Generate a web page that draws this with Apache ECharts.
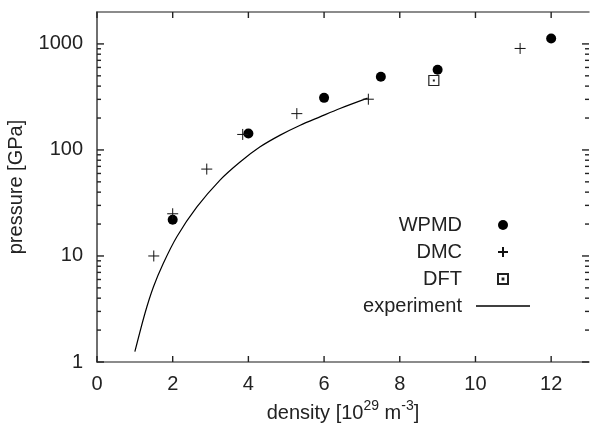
<!DOCTYPE html>
<html>
<head>
<meta charset="utf-8">
<script src="https://cdn.jsdelivr.net/npm/echarts@6/dist/echarts.min.js"></script>
<style>
  html, body { margin: 0; padding: 0; background: #fff; }
  #main { width: 596px; height: 426px; }
</style>
</head>
<body>
<div id="main"></div>
<script>
  // 数据 (density [1e29 m^-3], pressure [GPa])
  const wpmd = [[2.0, 22], [4.0, 143], [6.0, 310], [7.5, 490], [9.0, 570], [12.0, 1125]];
  const dmc = [[1.5, 10], [2.0, 25], [2.9, 66], [3.85, 140], [5.28, 220], [7.17, 301], [11.18, 906]];
  const dft = [[8.9, 452]];
  const experiment = [[1.0, 1.25], [1.27, 2.9], [1.49, 5.1], [1.75, 8.5], [2.11, 15.2], [2.64, 29],
    [3.25, 52], [3.78, 77], [4.31, 107], [4.84, 138], [5.37, 171], [5.89, 205], [6.42, 246], [7.15, 308]];

  const xTicks = [0, 2, 4, 6, 8, 10, 12];
  const yTicks = [1, 10, 100, 1000];
  const yMinorTicks = [2, 3, 4, 5, 6, 7, 8, 9, 20, 30, 40, 50, 60, 70, 80, 90, 200, 300, 400, 500, 600, 700, 800, 900];

  const FONT = '"Liberation Sans", Arial, sans-serif';
  const axisGray = '#666';
  const tickGray = '#222';

  const plusPath = 'path://M0,5 L10,5 M5,0 L5,10';
  const boxDotPath = 'path://M0,0 L10,0 L10,10 L0,10 Z M4.6,4.6 L5.4,4.6 L5.4,5.4 L4.6,5.4 Z';
  const linePath = 'path://M0,0 L54,0 L54,1.4 L0,1.4 Z';

  var myChart = echarts.init(document.getElementById('main'));

  // 刻度线 [x, y, 方向(0下 1上 2左 3右), 长度]
  const xTickData = [];
  xTicks.forEach(v => { xTickData.push([v, 1, 0, 6]); xTickData.push([v, 1, 1, 6]); });
  const yTickData = [];
  yTicks.forEach(v => { yTickData.push([1, v, 2, 6]); yTickData.push([1, v, 3, 6]); });
  yMinorTicks.forEach(v => { yTickData.push([1, v, 2, 3]); yTickData.push([1, v, 3, 3]); });

  const renderTick = function (params, api) {
    const side = api.value(2);
    const len = api.value(3);
    const p = api.coord([api.value(0), api.value(1)]);
    const cs = params.coordSys; // 网格范围
    let shape;
    if (side === 0) {
      shape = { x1: p[0], y1: cs.y + cs.height, x2: p[0], y2: cs.y + cs.height - len };
    } else if (side === 1) {
      shape = { x1: p[0], y1: cs.y, x2: p[0], y2: cs.y + len };
    } else if (side === 2) {
      shape = { x1: cs.x, y1: p[1], x2: cs.x + len + 1, y2: p[1] };
    } else {
      shape = { x1: cs.x + cs.width, y1: p[1], x2: cs.x + cs.width - len - 1, y2: p[1] };
    }
    return { type: 'line', shape: shape, style: { stroke: tickGray, lineWidth: 1.4 } };
  };

  let option = {
    animation: false,
    textStyle: { fontFamily: FONT },
    grid: { left: 97, right: 7, top: 12, bottom: 64, containLabel: false, outerBoundsMode: 'none' },
    legend: {
      orient: 'vertical',
      align: 'right',
      right: 61,
      top: 210,
      itemWidth: 54,
      itemHeight: 10,
      itemGap: 7,
      selectedMode: false,
      textStyle: { fontFamily: FONT, fontSize: 20, color: '#222', lineHeight: 20, padding: [0, 9, 0, 0] },
      data: [
        { name: 'WPMD' },
        { name: 'DMC' },
        { name: 'DFT' },
        { name: 'experiment', icon: linePath, itemStyle: { color: '#000', borderWidth: 0 } }
      ]
    },
    xAxis: [
      {
        type: 'value', min: 0, max: 13,
        position: 'bottom',
        name: '{a|density [10}{s|29}{a| m}{s|-3}{a|]}',
        nameLocation: 'middle',
        nameGap: 37,
        nameTextStyle: {
          rich: {
            a: { fontFamily: FONT, fontSize: 20, color: '#222', lineHeight: 24, verticalAlign: 'bottom' },
            s: { fontFamily: FONT, fontSize: 14, color: '#222', lineHeight: 24, verticalAlign: 'top', padding: [0, 0, 8, 0] }
          }
        },
        axisLine: { show: true, lineStyle: { color: axisGray, width: 1.5 } },
        axisTick: { show: false },
        axisLabel: { customValues: xTicks, margin: 12, fontFamily: FONT, fontSize: 20, color: '#222' },
        splitLine: { show: false }
      },
      {
        type: 'value', min: 0, max: 13,
        position: 'top',
        axisLine: { show: true, lineStyle: { color: axisGray, width: 1.5 } },
        axisTick: { show: false },
        axisLabel: { show: false },
        splitLine: { show: false }
      }
    ],
    yAxis: [
      {
        type: 'log', logBase: 10, min: 1, max: 2000,
        position: 'left',
        name: 'pressure [GPa]',
        nameLocation: 'middle',
        nameGap: 71,
        nameRotate: 90,
        nameTextStyle: { fontFamily: FONT, fontSize: 20, color: '#222' },
        axisLine: { show: true, lineStyle: { color: axisGray, width: 1.5 } },
        axisTick: { show: false },
        axisLabel: {
          customValues: yTicks, margin: 14, fontFamily: FONT, fontSize: 20, color: '#222',
          formatter: v => String(Math.round(v))
        },
        splitLine: { show: false }
      },
      {
        type: 'log', logBase: 10, min: 1, max: 2000,
        position: 'right',
        axisLine: { show: true, lineStyle: { color: axisGray, width: 1.5 } },
        axisTick: { show: false },
        axisLabel: { show: false },
        splitLine: { show: false }
      }
    ],
    series: [
      {
        name: 'xticks',
        type: 'custom',
        clip: false,
        zlevel: 1,
        xAxisIndex: 0,
        yAxisIndex: 0,
        renderItem: renderTick,
        encode: { x: 0, y: 1 },
        data: xTickData
      },
      {
        name: 'yticks',
        type: 'custom',
        clip: false,
        zlevel: 1,
        xAxisIndex: 0,
        yAxisIndex: 0,
        renderItem: renderTick,
        encode: { x: 0, y: 1 },
        data: yTickData
      },
      {
        name: 'WPMD',
        type: 'scatter',
        symbol: 'circle',
        symbolSize: 10,
        itemStyle: { color: '#000', opacity: 1 },
        data: wpmd,
        z: 3
      },
      {
        name: 'DMC',
        type: 'scatter',
        symbol: plusPath,
        symbolSize: 11,
        itemStyle: { color: 'rgba(0,0,0,0)', borderColor: '#111', borderWidth: 1, opacity: 1 },
        data: dmc,
        z: 3
      },
      {
        name: 'DFT',
        type: 'scatter',
        symbol: boxDotPath,
        symbolSize: 10,
        itemStyle: { color: 'rgba(0,0,0,0)', borderColor: '#222', borderWidth: 1.2, opacity: 1 },
        data: dft,
        z: 3
      },
      {
        name: 'experiment',
        type: 'line',
        symbol: 'none',
        smooth: 0.3,
        lineStyle: { color: '#000', width: 1.2 },
        itemStyle: { color: '#000' },
        data: experiment,
        z: 2
      }
    ]
  };
  myChart.setOption(option);
</script>
</body>
</html>
